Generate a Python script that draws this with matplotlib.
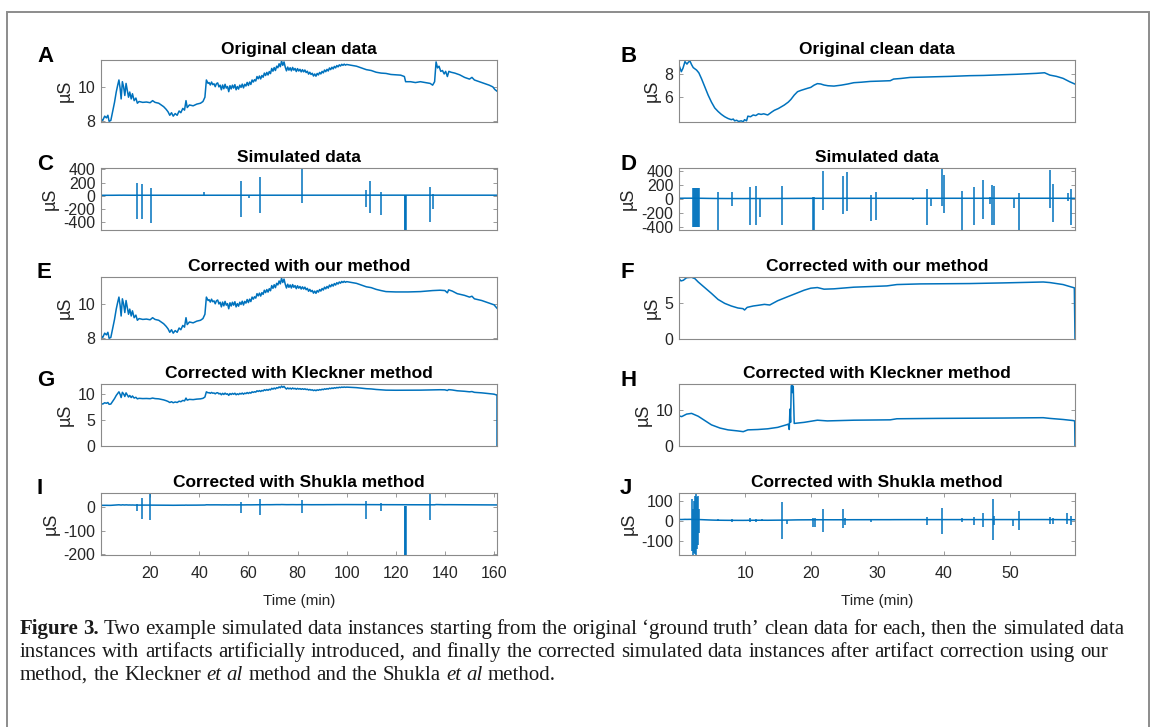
import matplotlib
matplotlib.use("Agg")
import matplotlib.pyplot as plt
from matplotlib.patches import Rectangle

# ---------------------------------------------------------------- data
# Left example (minutes, µS)
clean_left_t = [0, 0.7, 1.5, 2.2, 2.8, 3.3, 4.0, 4.8, 5.5, 6.2, 6.8, 7.3, 7.8, 8.2, 8.7, 9.2,
                9.7, 10.2, 10.7, 11.2, 11.7, 12.3, 12.8, 13.5, 14.2, 14.8, 15.5, 17, 18.5, 20,
                21, 22, 23.5, 24.5, 25.5, 26.5, 27.3, 28, 28.7, 29.4, 30.2, 31, 31.8, 32.5,
                33.3, 34, 34.6, 35.1, 36, 37.5, 39, 40.5, 41.5, 42.3, 42.9, 43.6,
                44.0, 44.5, 45.0, 45.5, 46.0, 46.5, 47.0, 47.5, 48.0, 48.5, 49.0, 49.5, 50.0,
                50.5, 51.0, 51.5, 52.0, 52.5, 53.0, 53.5, 54.0, 54.5, 55.0, 55.5, 56.0, 56.5,
                57.0, 57.5, 58.0, 58.5, 59.0, 59.5, 60.0, 60.5, 61.0, 61.5, 62.0, 62.5, 63.0,
                63.5, 64.0, 64.5, 65.0, 65.5, 66.0, 66.5, 67.0, 67.5, 68.0, 68.5, 69.0, 69.5,
                70.0, 70.5, 71.0, 71.5, 72.0, 72.5, 73.0, 73.5, 74.0, 74.5, 75.0, 75.5, 76.0,
                76.5, 77.0, 77.5, 78.0, 78.5, 79.0, 79.5, 80.0, 80.5, 81.0, 81.5, 82.0, 82.5,
                83.0, 83.5, 84.0, 84.5, 85.0, 85.5, 86.0, 86.5, 87.0, 87.5, 88.0, 88.5, 89.0,
                89.5, 90.0, 90.5, 91.0, 91.5, 92.0, 92.5, 93.0, 93.5, 94.0, 94.5, 95.0, 95.5,
                96.0, 96.5, 97.0, 97.5, 98.0, 98.5, 99.0, 99.5, 100.0,
                102, 104, 106, 108, 110, 112, 114, 116, 118,
                120, 122, 123.5, 124, 126, 128, 130, 132, 134, 135, 135.8, 136.4, 137, 137.6,
                138.3, 139, 139.7, 140.3, 141, 141.6, 142.5, 144, 146, 148, 150, 151, 152, 154,
                156, 158, 159.5, 160.3, 161.2]
clean_left_v = [8.15, 8.05, 8.3, 8.2, 8.35, 8.0, 8.05, 8.6, 9.1, 9.7, 10.1, 10.4, 9.9, 9.3,
                10.3, 10.0, 9.5, 10.2, 9.8, 9.4, 9.7, 9.3, 9.6, 9.2, 9.35, 9.05, 9.15, 9.1,
                9.12, 9.08, 9.2, 9.1, 9.05, 8.95, 8.85, 8.7, 8.55, 8.35, 8.5, 8.3, 8.45, 8.35,
                8.6, 8.5, 8.75, 8.65, 9.2, 8.8, 8.95, 8.9, 9.0, 9.05, 9.15, 9.4, 10.4, 10.2,
                10.25, 10.11, 10.28, 10.13, 10.18, 10.01, 10.19, 10.23, 10.00, 10.10, 9.83,
                10.11, 9.89, 10.15, 9.93, 10.02, 9.72, 10.07, 9.88, 10.10, 9.93, 10.13, 9.83,
                10.02, 9.87, 10.10, 9.97, 10.16, 9.94, 10.15, 10.05, 10.26, 10.08, 10.28,
                10.14, 10.40, 10.28, 10.42, 10.34, 10.60, 10.47, 10.63, 10.46, 10.66, 10.56,
                10.80, 10.66, 10.84, 10.69, 10.89, 10.77, 11.07, 10.91, 11.12, 10.95, 11.20,
                11.11, 11.34, 11.17, 11.50, 11.25, 11.45, 11.15, 10.93, 11.15, 10.97, 11.11,
                10.93, 11.13, 10.97, 11.07, 10.89, 11.06, 10.92, 11.02, 10.87, 11.00, 10.87,
                10.98, 10.83, 10.91, 10.74, 10.85, 10.72, 10.79, 10.63, 10.75, 10.62, 10.78,
                10.69, 10.84, 10.75, 10.90, 10.81, 10.98, 10.88, 11.02, 10.92, 11.10, 11.00,
                11.14, 11.04, 11.19, 11.10, 11.24, 11.16, 11.28, 11.21, 11.31, 11.25, 11.32,
                11.26, 11.30,
                11.25, 11.2, 11.1, 11.0, 10.95,
                10.85, 10.8, 10.78, 10.72, 10.7, 10.68, 10.6, 10.3, 10.3, 10.25, 10.3, 10.25,
                10.2, 10.1, 10.3, 11.45, 11.1, 11.2, 10.9, 10.95, 10.75, 10.9, 10.6, 10.9,
                10.85, 10.8, 10.7, 10.55, 10.45, 10.55, 10.4, 10.3, 10.2, 10.1, 10.0, 9.85,
                9.75]

# corrected by our method: identical to the clean record up to 110 min
our_left_tail_t = [112, 114, 116, 120, 125, 130, 135, 138, 140, 141, 141.5, 143, 145, 148,
                   150, 151, 152, 155, 158, 160, 161.2]
our_left_tail_v = [10.85, 10.78, 10.72, 10.7, 10.7, 10.72, 10.78, 10.8, 10.78, 10.65, 10.82,
                   10.75, 10.6, 10.5, 10.4, 10.45, 10.3, 10.2, 10.05, 9.95, 9.75]
our_left_split = 110

# simulated artifacts, left example: (time, top, bottom)
sim_left_spike_t = [14.5, 16.8, 20.2, 42.0, 56.8, 60.3, 64.6, 81.8, 107.7, 109.4, 114.0,
                    123.6, 123.8, 124.0, 133.9, 135.3]
sim_left_spike_hi = [188, 178, 115, 65, 223, 5, 286, 419, 90, 223, 51, 16, 16, 16, 129, 31]
sim_left_spike_lo = [-342, -352, -411, -8, -313, -33, -254, -106, -165, -263, -293,
                     -514, -514, -514, -391, -205]

# residual artifacts after the Shukla correction, left example
shukla_left_spike_t = [14.5, 16.8, 19.9, 56.8, 64.6, 81.8, 107.9, 114.0, 123.6, 123.8,
                       124.0, 133.9]
shukla_left_spike_hi = [14, 39, 60, 21, 35, 32, 26, 18, 4, 4, 4, 60]
shukla_left_spike_lo = [-17, -49, -54, -24, -35, -24, -49, -17, -205, -205, -205, -54]

# Right example (minutes, µS)
clean_right_t = [0, 0.35, 0.6, 0.9, 1.2, 1.4, 1.65, 1.9, 2.15, 2.65, 3.0, 3.4, 3.9, 4.4, 4.9,
                 5.4, 5.9, 6.4, 6.9, 7.4, 7.9, 8.2, 8.4, 8.7, 9.0, 9.4, 9.7, 9.9, 10.2, 10.4,
                 10.8, 11.2, 11.6, 12.0, 12.4, 12.8, 13.4, 14.0, 14.4, 15.0, 15.9, 16.5, 16.9,
                 17.4, 17.9, 18.4, 18.9, 19.4, 19.9, 20.4, 20.9, 21.4, 21.9, 22.5, 23.4, 24.5,
                 25.5, 26.4, 27.5, 28.9, 30.5, 31.9, 32.4, 33.5, 34.9, 37, 38.9, 41, 43.9, 46,
                 48.9, 51, 54, 55.2, 56, 57, 58, 59, 59.8]
clean_right_v = [8.77, 8.2, 8.5, 9.06, 8.85, 9.0, 9.12, 8.8, 8.55, 8.34, 8.1, 7.6, 6.9, 6.2,
                 5.6, 5.1, 4.8, 4.55, 4.35, 4.2, 4.1, 4.15, 4.0, 4.05, 3.95, 4.0, 3.92, 4.1, 4.0,
                 4.4, 4.35, 4.5, 4.45, 4.6, 4.55, 4.6, 4.5, 4.75, 4.9, 5.05, 5.35, 5.6, 5.83, 6.2,
                 6.49, 6.6, 6.69, 6.78, 6.86, 7.05, 7.18, 7.15, 7.06, 7.0, 6.97, 7.05, 7.15, 7.26,
                 7.3, 7.37, 7.4, 7.43, 7.57, 7.62, 7.71, 7.74, 7.77, 7.8, 7.86, 7.88, 7.94, 7.98,
                 8.06, 8.11, 7.91, 7.8, 7.63, 7.34, 7.14]

our_right_t = [0, 0.3, 0.65, 1.15, 1.9, 2.4, 2.9, 3.9, 4.9, 5.9, 6.9, 7.9, 8.9, 9.66, 9.9,
               10.3, 11.2, 11.9, 12.9, 13.7, 14.9, 16.4, 17.9, 18.9, 19.9, 20.9, 21.9, 23.4,
               26.4, 31.4, 32.9, 36.4, 43.9, 48.9, 55, 56, 58, 59.2, 59.7, 59.8]
our_right_v = [8.47, 8.15, 8.24, 8.6, 8.66, 8.47, 8.0, 7.2, 6.4, 5.55, 5.0, 4.63, 4.35, 4.26,
               4.07, 4.44, 4.63, 4.72, 4.86, 4.77, 5.37, 5.93, 6.48, 6.85, 7.13, 7.22, 6.99,
               7.04, 7.27, 7.45, 7.64, 7.73, 7.78, 7.87, 8.0, 7.92, 7.64, 7.31, 7.18, 0.0]

kleckner_right_t = [0, 0.4, 1.15, 1.9, 2.9, 3.9, 4.9, 6.2, 7.4, 8.9, 9.7, 10.4, 11.9, 13.4,
                    14.9, 16.2, 16.5, 16.65, 16.75, 16.85, 16.95, 17.05, 17.15, 17.25, 17.4,
                    18.9, 20.9, 22.4, 26.4, 31.9, 32.9, 38.9, 48.9, 55, 56, 58, 59.5, 59.75,
                    59.8]
kleckner_right_v = [8.4, 8.2, 8.9, 9.1, 8.3, 7.1, 5.9, 5.0, 4.5, 4.2, 4.0, 4.5, 4.6, 4.8, 5.2,
                    5.9, 6.1, 4.6, 10.3, 6.6, 16.7, 17.2, 14.9, 16.7, 6.3, 6.6, 7.2, 7.0, 7.2,
                    7.3, 7.6, 7.7, 7.8, 7.9, 7.7, 7.4, 7.1, 7.0, 0.0]

sim_right_spike_t = [2.15, 2.3, 2.45, 2.6, 2.75, 2.9, 3.0, 5.9, 8.05, 10.7, 11.6, 12.2, 15.6,
                     20.3, 20.45, 21.7, 24.7, 25.3, 29.0, 29.8, 35.3, 37.4, 38.1, 39.7, 40.0,
                     42.8, 44.6, 45.9, 47.0, 47.3, 47.6, 50.6, 51.35, 56.05, 56.55, 58.7, 59.2]
sim_right_spike_hi = [152, 150, 152, 150, 152, 150, 152, 90, 90, 167, 186, 7, 186, 33, 33,
                      400, 328, 386, 57, 90, 7, 138, 7, 438, 343, 105, 167, 271, 33, 200, 176,
                      7, 81, 414, 214, 81, 138]
sim_right_spike_lo = [-395, -395, -395, -395, -395, -395, -395, -443, -100, -371, -371, -262,
                      -371, -443, -443, -157, -219, -171, -309, -300, -20, -371, -100, -100,
                      -205, -443, -371, -286, -71, -371, -371, -133, -443, -133, -333, -24,
                      -371]

shukla_right_spike_t = [2.0, 2.15, 2.3, 2.45, 2.6, 2.75, 2.9, 3.0, 5.9, 8.05, 10.7, 11.6,
                        12.6, 15.6, 16.3, 20.3, 20.5, 21.7, 24.7, 25.1, 29.0, 37.4, 39.7, 42.8,
                        44.6, 45.9, 47.35, 47.6, 50.4, 51.35, 56.0, 56.5, 58.6, 59.2]
shukla_right_spike_hi = [115, 60, 100, 130, 140, 125, 130, 60, 10, 12, 17, 13, 10, 97, 7, 18,
                         18, 60, 63, 15, 13, 23, 68, 15, 23, 43, 113, 25, 8, 52, 20, 18, 40, 25]
shukla_right_spike_lo = [-150, -170, -160, -165, -170, -140, -120, -60, 0, -2, -6, -3, 0,
                         -90, -12, -32, -32, -53, -37, -20, -3, -20, -65, -5, -20, -32, -98,
                         -20, -23, -43, -15, -12, -15, -20]

left_xticks = [20, 40, 60, 80, 100, 120, 140, 160]
right_xticks = [10, 20, 30, 40, 50]

titles = ["Original clean data", "Simulated data", "Corrected with our method",
          "Corrected with Kleckner method", "Corrected with Shukla method"]
panel_letters = ["A", "B", "C", "D", "E", "F", "G", "H", "I", "J"]

caption_lines = [
    [("Figure 3.", "bold", "normal"),
     ("Two example simulated data instances starting from the original \u2018ground truth\u2019"
      " clean data for each, then the simulated data", "normal", "normal")],
    [("instances with artifacts artificially introduced, and finally the corrected simulated"
      " data instances after artifact correction using our", "normal", "normal")],
    [("method, the Kleckner", "normal", "normal"), ("et al", "normal", "italic"),
     ("method and the Shukla", "normal", "normal"), ("et al", "normal", "italic"),
     ("method.", "normal", "normal")],
]

# ---------------------------------------------------------------- figure
W, H = 1153, 727
BLUE = "#0072BD"
TXT = "#262626"
plt.rcParams["font.family"] = ["Liberation Sans", "DejaVu Sans"]
plt.rcParams["axes.unicode_minus"] = False

fig = plt.figure(figsize=(W / 100, H / 100), dpi=100)

# outer frame of the figure block
fig.patches.append(Rectangle((7 / W, -0.05), (1149 - 7) / W, 1.05 - 12 / H,
                             transform=fig.transFigure, fill=False,
                             edgecolor="#8c8c8c", linewidth=1.4))

row_tops = [60, 168, 277, 384, 493]
ax_h = 62
col_x = [(101, 497), (679, 1075)]


def make_axes(row, col):
    x0, x1 = col_x[col]
    top = row_tops[row]
    ax = fig.add_axes([x0 / W, 1 - (top + ax_h) / H, (x1 - x0) / W, ax_h / H])
    for sp in ax.spines.values():
        sp.set_color("#8a8a8a")
        sp.set_linewidth(0.8)
    ax.tick_params(direction="in", length=3, width=0.6, color="#8a8a8a",
                   labelcolor=TXT, labelsize=11.5, right=True, top=True)
    ax.tick_params(axis="y", pad=4)
    ax.tick_params(axis="x", pad=8)
    ax.set_title(titles[row], fontsize=12.5, fontweight="bold", color="black", pad=4)
    ax.set_ylabel("\u00b5S", fontsize=13, color=TXT, labelpad=3)
    ax.set_xlim(0, 161.2 if col == 0 else 59.8)
    if row < 4:
        ax.set_xticks([])
    else:
        ax.set_xticks(left_xticks if col == 0 else right_xticks)
        ax.set_xlabel("Time (min)", fontsize=11, color=TXT, labelpad=9)
    letter = panel_letters[row * 2 + col]
    lx = 37 if col == 0 else 620
    fig.text(lx / W, 1 - (top - 4) / H, letter, fontsize=16, fontweight="bold",
             ha="left", va="center")
    return ax


line_kw = dict(color=BLUE, linewidth=1.1)

# A
ax = make_axes(0, 0)
ax.plot(clean_left_t, clean_left_v, **line_kw)
ax.set_ylim(7.96, 11.56)
ax.set_yticks([8, 10])

# B
ax = make_axes(0, 1)
ax.plot(clean_right_t, clean_right_v, **line_kw)
ax.set_ylim(3.9, 9.2)
ax.set_yticks([6, 8])

# C
ax = make_axes(1, 0)
ax.plot(clean_left_t, clean_left_v, **line_kw)
ax.vlines(sim_left_spike_t, sim_left_spike_lo, sim_left_spike_hi, **line_kw)
ax.set_ylim(-514, 419)
ax.set_yticks([-400, -200, 0, 200, 400])

# D
ax = make_axes(1, 1)
ax.plot(clean_right_t, clean_right_v, **line_kw)
ax.vlines(sim_right_spike_t, sim_right_spike_lo, sim_right_spike_hi, **line_kw)
ax.set_ylim(-443, 438)
ax.set_yticks([-400, -200, 0, 200, 400])

# E
n_keep = sum(1 for t in clean_left_t if t <= our_left_split)
our_left_t = clean_left_t[:n_keep] + our_left_tail_t
our_left_v = clean_left_v[:n_keep] + our_left_tail_v
ax = make_axes(2, 0)
ax.plot(our_left_t, our_left_v, **line_kw)
ax.set_ylim(7.96, 11.57)
ax.set_yticks([8, 10])

# F
ax = make_axes(2, 1)
ax.plot(our_right_t, our_right_v, **line_kw)
ax.set_ylim(0, 8.7)
ax.set_yticks([0, 5])

# G: Kleckner output follows the corrected curve, ending in a drop to zero
kleckner_left_t = our_left_t + [161.2]
kleckner_left_v = our_left_v + [0.0]
ax = make_axes(3, 0)
ax.plot(kleckner_left_t, kleckner_left_v, **line_kw)
ax.set_ylim(0, 11.9)
ax.set_yticks([0, 5, 10])

# H
ax = make_axes(3, 1)
ax.plot(kleckner_right_t, kleckner_right_v, **line_kw)
ax.set_ylim(0, 17.3)
ax.set_yticks([0, 10])

# I
ax = make_axes(4, 0)
ax.plot(clean_left_t, clean_left_v, **line_kw)
ax.vlines(shukla_left_spike_t, shukla_left_spike_lo, shukla_left_spike_hi, **line_kw)
ax.set_ylim(-205, 61)
ax.set_yticks([-200, -100, 0])

# J
ax = make_axes(4, 1)
ax.plot(clean_right_t, clean_right_v, **line_kw)
ax.vlines(shukla_right_spike_t, shukla_right_spike_lo, shukla_right_spike_hi, **line_kw)
ax.set_ylim(-172, 143)
ax.set_yticks([-100, 0, 100])

# ---------------------------------------------------------------- caption
renderer = fig.canvas.get_renderer()
cap_kw = dict(family=["Liberation Serif", "DejaVu Serif"], fontsize=15, color="#1a1a1a")
cap_x0 = 20
cap_ends = [1124, 1108, None]
cap_baselines = [634, 657, 680]


def word_width(word, weight, style):
    t = fig.text(0, 0, word, weight=weight, style=style, **cap_kw)
    w = t.get_window_extent(renderer=renderer).width
    t.remove()
    return w


space_w = word_width("x x", "normal", "normal") - word_width("xx", "normal", "normal")

for pieces, y, x_end in zip(caption_lines, cap_baselines, cap_ends):
    words = []
    for text, weight, style in pieces:
        for w in text.split(" "):
            words.append((w, weight, style))
    widths = [word_width(w, wt, st) for w, wt, st in words]
    if x_end is None:
        gap = space_w
    else:
        gap = (x_end - cap_x0 - sum(widths)) / (len(words) - 1)
    x = cap_x0
    for (w, wt, st), ww in zip(words, widths):
        fig.text(x / W, 1 - y / H, w, weight=wt, style=st, va="baseline", ha="left",
                 **cap_kw)
        x += ww + gap

fig.savefig("out.png", dpi=100)
